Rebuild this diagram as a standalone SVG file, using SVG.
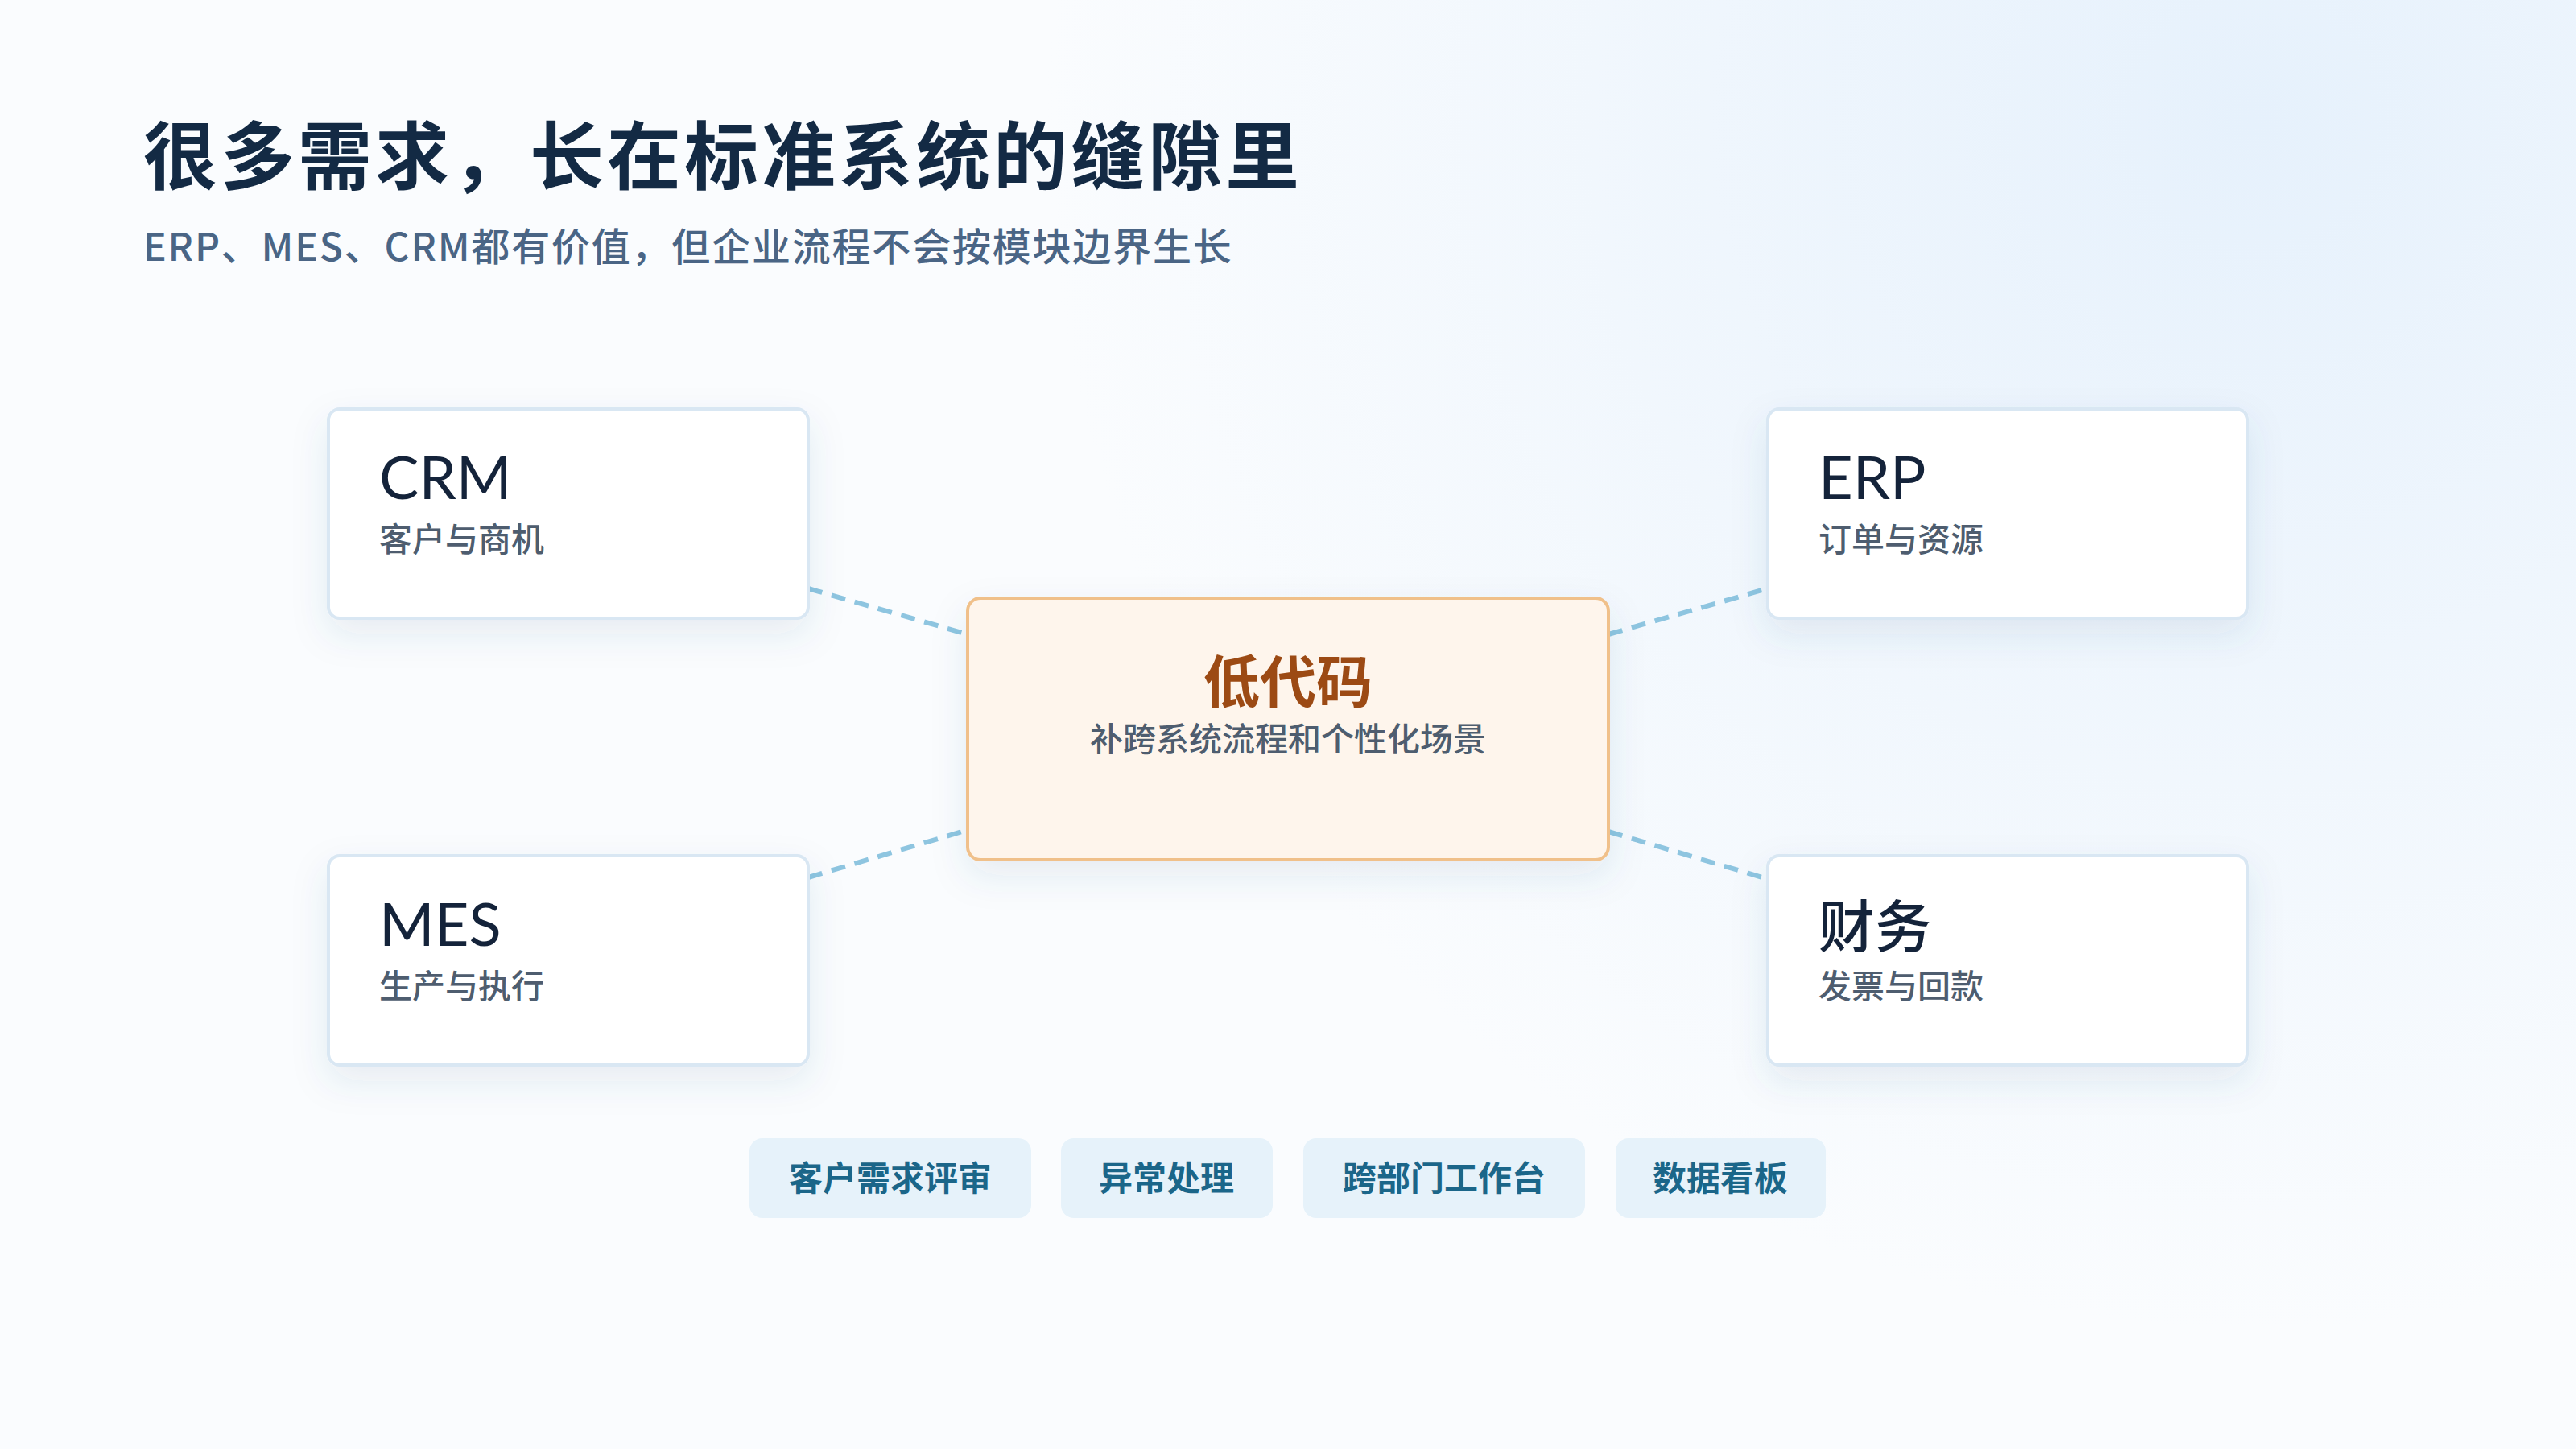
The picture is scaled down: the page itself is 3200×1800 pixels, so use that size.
<svg xmlns="http://www.w3.org/2000/svg" width="3200" height="1800" viewBox="0 0 3200 1800">
<defs>
<radialGradient id="bg" cx="2800" cy="150" r="1500" gradientUnits="userSpaceOnUse">
<stop offset="0" stop-color="#E6F1FC"/><stop offset="1" stop-color="#FAFCFE"/>
</radialGradient>
<filter id="sh" x="-20%" y="-20%" width="140%" height="160%">
<feDropShadow dx="0" dy="18" stdDeviation="22" flood-color="#3A5A80" flood-opacity="0.10"/>
</filter>
<style>
.cjk{font-family:"Noto Sans CJK SC","Noto Sans",sans-serif}
.card{fill:#FFFFFF;stroke:#D9E7F3;stroke-width:4}
.h{font-family:Lato,"Noto Sans CJK SC",sans-serif;font-size:74px;fill:#14233A}
.s{font-family:"Noto Sans CJK SC",sans-serif;font-size:41px;fill:#4E5D6F;font-weight:500}
.pill{fill:#E6F2FA}
.pt{font-family:"Noto Sans CJK SC",sans-serif;font-size:42px;fill:#1B6689;font-weight:700;text-anchor:middle}
.ln{stroke:#8EC5E0;stroke-width:6;stroke-dasharray:18 12;fill:none}
</style>
</defs>
<rect width="3200" height="1800" fill="url(#bg)"/>
<text x="178" y="228" class="cjk" font-size="92" font-weight="700" fill="#132A44" letter-spacing="4">很多需求，长在标准系统的缝隙里</text>
<text x="178" y="324" class="cjk" font-size="48" font-weight="500" fill="#4A6585" letter-spacing="1.8">ERP、MES、CRM都有价值，但企业流程不会按模块边界生长</text>
<g id="connectors">
<line class="ln" x1="1004" y1="731" x2="1202" y2="788"/>
<line class="ln" x1="1998" y1="788" x2="2196" y2="731"/>
<line class="ln" x1="1004" y1="1090" x2="1202" y2="1031"/>
<line class="ln" x1="1998" y1="1033" x2="2196" y2="1092"/>
</g>
<g id="crm"><rect class="card" x="408" y="508" width="596" height="260" rx="14" filter="url(#sh)"/>
<text x="471" y="620" class="h">CRM</text><text x="471" y="685" class="s">客户与商机</text></g>
<g id="erp"><rect class="card" x="2196" y="508" width="596" height="260" rx="14" filter="url(#sh)"/>
<text x="2259" y="620" class="h">ERP</text><text x="2259" y="685" class="s">订单与资源</text></g>
<g id="mes"><rect class="card" x="408" y="1063" width="596" height="260" rx="14" filter="url(#sh)"/>
<text x="471" y="1175" class="h">MES</text><text x="471" y="1240" class="s">生产与执行</text></g>
<g id="finance"><rect class="card" x="2196" y="1063" width="596" height="260" rx="14" filter="url(#sh)"/>
<text x="2259" y="1177" class="cjk" font-size="70" font-weight="500" fill="#14233A">财务</text><text x="2259" y="1240" class="s">发票与回款</text></g>
<g id="lowcode"><rect x="1202" y="743" width="796" height="325" rx="16" fill="#FEF5EC" stroke="#F0C08A" stroke-width="4" filter="url(#sh)"/>
<text x="1600" y="873" class="cjk" font-size="70" font-weight="700" fill="#9C4A14" text-anchor="middle">低代码</text>
<text x="1600" y="933" class="s" text-anchor="middle">补跨系统流程和个性化场景</text></g>
<g id="tag1"><rect class="pill" x="931" y="1414" width="350" height="99" rx="16"/><text class="pt" x="1106" y="1479">客户需求评审</text></g>
<g id="tag2"><rect class="pill" x="1318" y="1414" width="263" height="99" rx="16"/><text class="pt" x="1449" y="1479">异常处理</text></g>
<g id="tag3"><rect class="pill" x="1619" y="1414" width="350" height="99" rx="16"/><text class="pt" x="1794" y="1479">跨部门工作台</text></g>
<g id="tag4"><rect class="pill" x="2007" y="1414" width="261" height="99" rx="16"/><text class="pt" x="2137" y="1479">数据看板</text></g>
</svg>
